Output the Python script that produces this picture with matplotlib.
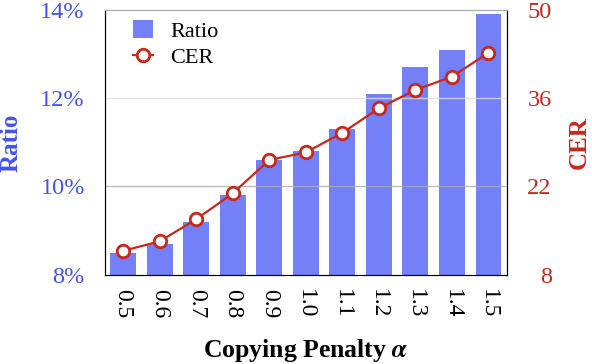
import matplotlib
matplotlib.use("Agg")
import matplotlib.pyplot as plt

categories = ["0.5", "0.6", "0.7", "0.8", "0.9", "1.0", "1.1", "1.2", "1.3", "1.4", "1.5"]
ratio = [8.5, 8.7, 9.2, 9.8, 10.6, 10.8, 11.3, 12.1, 12.7, 13.1, 13.9]
cer = [11.8, 13.3, 16.8, 20.9, 26.2, 27.4, 30.5, 34.4, 37.3, 39.4, 43.2]
ratio_ticks = [8, 10, 12, 14]
ratio_ticklabels = ["8%", "10%", "12%", "14%"]
cer_ticks = [8, 22, 36, 50]

plt.rcParams['font.family'] = ['Liberation Serif', 'DejaVu Serif']
plt.rcParams['mathtext.fontset'] = 'stix'

blue = "#4352f2"
bar_color = "#7480f8"
red = "#c8281a"

fig = plt.figure(figsize=(5.92, 3.64), dpi=100)
ax = fig.add_axes([0.177, 0.245, 0.679, 0.728])
x = list(range(len(categories)))
bars = ax.bar(x, ratio, width=0.71, color=bar_color, zorder=2, label="Ratio")
ax.set_ylim(8, 14)
ax.set_xlim(-0.5, len(categories) - 0.5)
ax.set_yticks(ratio_ticks)
ax.set_yticklabels(ratio_ticklabels, color=blue, fontsize=17.5)
ax.set_xticks(x)
ax.set_xticklabels(categories, rotation=-90, fontsize=17)
ax.tick_params(axis='y', length=0, pad=14.4)
ax.tick_params(axis='x', length=0, pad=10.5)
ax.set_ylabel("Ratio", color=blue, fontsize=18, fontweight='bold')
ax.yaxis.set_label_coords(-0.204, 0.5)
ax.set_xlabel("Copying Penalty $\\boldsymbol{\\alpha}$", fontsize=18.5, fontweight='bold')
ax.xaxis.set_label_coords(0.5, -0.234)
ax.axhline(10, color='#aaaaaa', lw=1.0, alpha=0.8, zorder=3)
ax.axhline(12, color='#dddddd', lw=1.0, alpha=0.8, zorder=3)
ax.spines['top'].set_color('#aaaaaa')

ax2 = ax.twinx()
line, = ax2.plot(x, cer, color=red, lw=1.6, marker='o', markersize=9,
                 markerfacecolor='white', markeredgecolor=red, markeredgewidth=2, label="CER", zorder=4)
ax2.set_ylim(8, 50)
ax2.set_yticks(cer_ticks)
ax2.set_yticklabels([str(t) for t in cer_ticks], color=red, fontsize=17.5)
for lbl in ax2.get_yticklabels():
    lbl.set_horizontalalignment('right')
ax2.tick_params(axis='y', length=0, pad=32.4)
ax2.set_ylabel("CER", color=red, fontsize=18, fontweight='bold')
ax2.yaxis.set_label_coords(1.152, 0.5)
ax2.spines['top'].set_color('#aaaaaa')

ax2.legend([bars, line], ["Ratio", "CER"], loc='upper left', frameon=False, fontsize=16,
           bbox_to_anchor=(0.07, 0.962), borderpad=0, borderaxespad=0,
           handlelength=0.9, handleheight=0.9, handletextpad=0.77, labelspacing=0.2)

fig.savefig("out.png", dpi=100)
